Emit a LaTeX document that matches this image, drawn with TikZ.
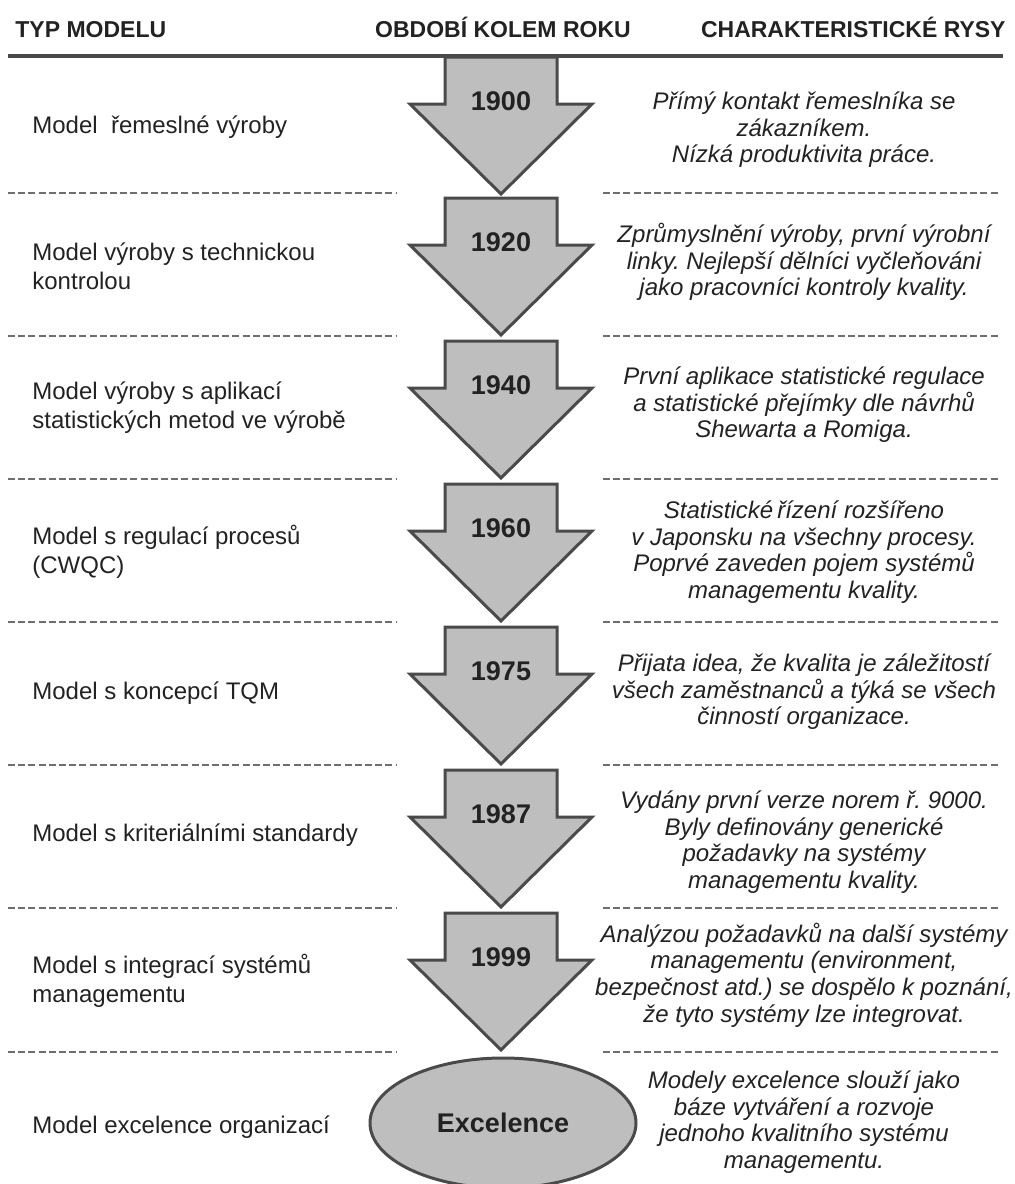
\documentclass[tikz,border=0pt]{standalone}
\usepackage{fontspec}
\setmainfont{Liberation Sans}
\usetikzlibrary{shapes.geometric}
\frenchspacing
\definecolor{arrowfill}{HTML}{BEBEBE}
\definecolor{edgegray}{HTML}{4A4A4A}
\definecolor{inkgray}{HTML}{222222}
\tikzset{
  head/.style={font=\fontsize{11.5}{14}\selectfont\bfseries, text=inkgray, inner sep=0pt},
  modeltext/.style={anchor=west, align=left, inner sep=0pt, font=\fontsize{12}{14.5}\selectfont, text=inkgray},
  feattext/.style={align=center, font=\fontsize{12}{13.3}\selectfont\itshape, text=inkgray},
  yeartext/.style={font=\fontsize{13.5}{16}\selectfont\bfseries, text=inkgray},
  blockarrow/.style={fill=arrowfill, draw=edgegray, line width=1.5pt, line join=miter},
  sepline/.style={draw=edgegray!80, line width=1pt, dash pattern=on 3.5pt off 1.6pt}
}
\begin{document}
\begin{tikzpicture}[x=0.5pt, y=-0.5pt]
\useasboundingbox (0,0) rectangle (1015,1184);
\node[head, anchor=base west] (hmodel) at (15,37) {TYP MODELU};
\node[head, anchor=base] (hperiod) at (503,37) {OBDOBÍ KOLEM ROKU};
\node[head, anchor=base east] (hfeat) at (1006,37) {CHARAKTERISTICKÉ RYSY};
\draw[edgegray, line width=2pt] (8,56) -- (1003,56);
\foreach \d in {193,336,479,622,765,908,1052} {
  \draw[sepline] (8,\d) -- (397,\d);
  \draw[sepline] (603,\d) -- (1000,\d);
}
\foreach \t/\yr in {57/1900,198/1920,341/1940,484/1960,627/1975,770/1987,913/1999} {
  \draw[blockarrow] (445,\t) -- (557,\t) -- (557,\t+47) -- (592,\t+47) -- (501,\t+137)
    -- (410,\t+47) -- (445,\t+47) -- cycle;
  \node[yeartext] (y\yr) at (501,\t+44) {\yr};
}
\node[ellipse, fill=arrowfill, draw=edgegray, line width=1.5pt, minimum width=133pt,
  minimum height=65pt, inner sep=0pt, yeartext] (exc) at (503,1123) {Excelence};
\node[modeltext] (m1900) at (32,127) {Model\ \ řemeslné výroby};
\node[modeltext] (m1920) at (32,266) {Model výroby s technickou\\kontrolou};
\node[modeltext] (m1940) at (32,408) {Model výroby s aplikací\\statistických metod ve výrobě};
\node[modeltext] (m1960) at (32,552) {Model s regulací procesů\\(CWQC)};
\node[modeltext] (m1975) at (32,693) {Model s koncepcí TQM};
\node[modeltext] (m1987) at (32,835) {Model s kriteriálními standardy};
\node[modeltext] (m1999) at (32,981) {Model s integrací systémů\\managementu};
\node[modeltext] (mexc) at (32,1127) {Model excelence organizací};
\node[feattext] (f1900) at (804,130) {Přímý kontakt řemeslníka se\\zákazníkem.\\Nízká produktivita práce.};
\node[feattext] (f1920) at (804,262) {Zprůmyslnění výroby, první výrobní\\linky. Nejlepší dělníci vyčleňováni\\jako pracovníci kontroly kvality.};
\node[feattext] (f1940) at (804,405) {První aplikace statistické regulace\\a statistické přejímky dle návrhů\\Shewarta a Romiga.};
\node[feattext] (f1960) at (804,552) {Statistické\,řízení rozšířeno\\v Japonsku na všechny procesy.\\Poprvé zaveden pojem systémů\\managementu kvality.};
\node[feattext] (f1975) at (804,692) {Přijata idea, že kvalita je záležitostí\\všech zaměstnanců a týká se všech\\činností organizace.};
\node[feattext] (f1987) at (804,842) {Vydány první verze norem ř. 9000.\\Byly definovány generické\\požadavky na systémy\\managementu kvality.};
\node[feattext] (f1999) at (804,975) {Analýzou požadavků na další systémy\\managementu (environment,\\bezpečnost atd.) se dospělo k poznání,\\že tyto systémy lze integrovat.};
\node[feattext] (fexc) at (804,1122) {Modely excelence slouží jako\\báze vytváření a rozvoje\\jednoho kvalitního systému\\managementu.};
\end{tikzpicture}
\end{document}
